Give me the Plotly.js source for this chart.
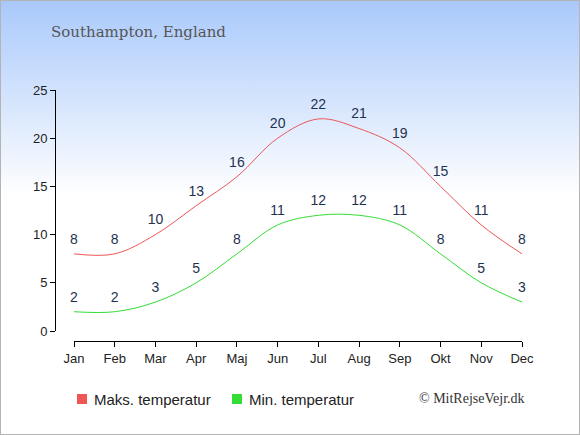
<!DOCTYPE html>
<html>
<head>
<meta charset="utf-8">
<script src="https://cdn.plot.ly/plotly-3.0.1.min.js"></script>
<style>
html,body{margin:0;padding:0;}
body{width:580px;height:435px;overflow:hidden;}
#wrap{position:absolute;left:0;top:0;width:578px;height:433px;border:1px solid #b4b4b4;
background:linear-gradient(to bottom,#a9c9fb 0px,#ffffff 195px,#ffffff 435px);}
#chart{position:absolute;left:-1px;top:-1px;width:580px;height:435px;}
</style>
</head>
<body>
<div id="wrap"><div id="chart"></div></div>
<script>
var months = ["Jan","Feb","Mar","Apr","Maj","Jun","Jul","Aug","Sep","Okt","Nov","Dec"];
var maxTemp = [8,8,10,13,16,20,22,21,19,15,11,8];
var minTemp = [2,2,3,5,8,11,12,12,11,8,5,3];
var yTicks = [0,5,10,15,20,25];
var seriesNames = ["Maks. temperatur","Min. temperatur"];
var titleText = "Southampton, England";
var creditText = "© MitRejseVejr.dk";

var red = "#ee5555", green = "#33dd33", labelColor = "#1e3250";

// pixel -> paper helpers (plot area: left 55, width 467, bottom 341, height 251)
function px(x){ return (x-55)/467; }
function py(y){ return (341-y)/251; }

function lineTrace(vals, color){
  return {x: months, y: vals, type:'scatter', mode:'lines+markers+text',
    line:{color:color, width:1, shape:'spline', smoothing:1},
    marker:{size:9, opacity:0, color:color},
    text: vals.map(String), textposition:'top center',
    textfont:{family:'Liberation Sans, Arial, sans-serif', size:14, color:labelColor},
    showlegend:false, hoverinfo:'skip', cliponaxis:false};
}
var data = [lineTrace(maxTemp, red), lineTrace(minTemp, green)];

var legendFont = {family:'Liberation Sans, Arial, sans-serif', size:15, color:'#222'};
var layout = {
  width:580, height:435,
  paper_bgcolor:'rgba(0,0,0,0)', plot_bgcolor:'rgba(0,0,0,0)',
  margin:{l:55, r:58, t:90, b:94},
  showlegend:false,
  font:{family:'Liberation Sans, Arial, sans-serif', size:13, color:'#222'},
  title:{text:titleText, x:51/580, xanchor:'left', xref:'container',
    y:1-32/435, yanchor:'middle', yref:'container',
    font:{family:'DejaVu Serif, Georgia, serif', size:15, color:'#555'}},
  xaxis:{type:'category', range:[0,11], domain:[19/467,1], anchor:'free', position:0,
    showline:true, linecolor:'#000', linewidth:1, ticks:'outside', ticklen:5, tickcolor:'#000',
    showgrid:false, zeroline:false, fixedrange:true,
    tickfont:{size:13, color:'#222'}},
  yaxis:{range:[0,25], domain:[10/251,1], anchor:'free', position:0,
    tickvals:yTicks, showline:true, linecolor:'#000', linewidth:1, ticks:'outside', ticklen:5,
    tickcolor:'#000', showgrid:false, zeroline:false, fixedrange:true,
    tickfont:{size:13, color:'#222'}},
  shapes:[
    {type:'rect', xref:'paper', yref:'paper', x0:px(77), x1:px(87), y0:py(404), y1:py(394),
      fillcolor:red, line:{width:0}},
    {type:'rect', xref:'paper', yref:'paper', x0:px(232), x1:px(242), y0:py(404), y1:py(394),
      fillcolor:green, line:{width:0}}
  ],
  annotations:[
    {text:seriesNames[0], xref:'paper', yref:'paper', x:px(92), y:py(399),
      xanchor:'left', yanchor:'middle', showarrow:false, font:legendFont},
    {text:seriesNames[1], xref:'paper', yref:'paper', x:px(247), y:py(399),
      xanchor:'left', yanchor:'middle', showarrow:false, font:legendFont},
    {text:creditText, xref:'paper', yref:'paper', x:px(417), y:py(398),
      xanchor:'left', yanchor:'middle', showarrow:false,
      font:{family:'Liberation Serif, Times New Roman, serif', size:14, color:'#333'}}
  ]
};
Plotly.newPlot('chart', data, layout, {staticPlot:true, displayModeBar:false});
</script>
</body>
</html>
